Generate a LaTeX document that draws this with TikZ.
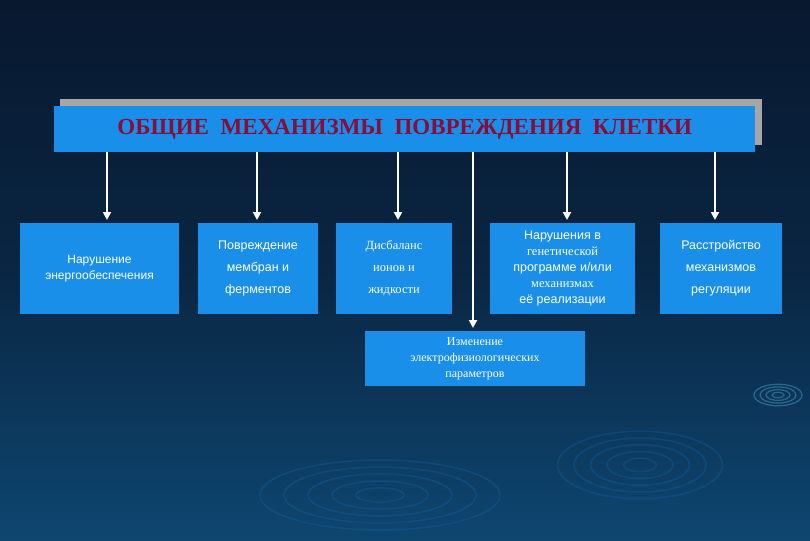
\documentclass[tikz,border=0pt]{standalone}
\usepackage{fontspec}
\setmainfont{Liberation Sans}
\newfontfamily\serifx{Liberation Serif}
\begin{document}
\begin{tikzpicture}[x=1pt,y=-1pt,
 box/.style={draw=none,fill=boxblue,text=white,align=center,inner sep=0pt,font=\fontsize{12.5}{22}\selectfont},
 arr/.style={draw=white,line width=2.8pt,-{Triangle[length=8pt,width=8pt]}}]
\usetikzlibrary{arrows.meta}
\definecolor{boxblue}{HTML}{1A8FEA}
\definecolor{bgtop}{HTML}{08182F}
\definecolor{bgbot}{HTML}{0E4670}
\definecolor{titlered}{HTML}{8A0C38}
\useasboundingbox (0,0) rectangle (810,540);
\shade[top color=bgtop,bottom color=bgbot,middle color=bgtop!70!bgbot] (0,0) rectangle (810,540);
\foreach \r in {20,40,60,80,100}{\draw[cyan!50!blue,opacity=0.25,line width=1.5pt] (380,495) ellipse ({\r*1.2} and {\r*0.35});}
\foreach \r in {15,30,45,60,75}{\draw[cyan!50!blue,opacity=0.25,line width=1.5pt] (640,465) ellipse ({\r*1.1} and {\r*0.45});}
\foreach \r in {6,12,18,24}{\draw[cyan!60,opacity=0.35,line width=1.2pt] (778,395) ellipse ({\r} and {\r*0.45});}
\fill[gray!70] (60,99) rectangle (762,145);
\node[box,minimum width=701pt,minimum height=46pt,anchor=north west] (t) at (54,106) {};
\node[text=titlered,font=\serifx\bfseries\fontsize{23}{26}\selectfont] at (t.center) {ОБЩИЕ\ \ МЕХАНИЗМЫ\ \ ПОВРЕЖДЕНИЯ\ \ КЛЕТКИ};
\node[box,minimum width=159pt,minimum height=91pt,font=\fontsize{12}{16}\selectfont] (b1) at (99.5,268.5) {Нарушение\\энергообеспечения};
\node[box,minimum width=120pt,minimum height=91pt] (b2) at (258,268.5) {Повреждение\\мембран и\\ферментов};
\node[box,minimum width=116pt,minimum height=91pt,font=\serifx\fontsize{12.5}{22}\selectfont] (b3) at (394,268.5) {Дисбаланс\\ионов и\\жидкости};
\node[box,minimum width=145pt,minimum height=91pt,font=\fontsize{12.5}{16}\selectfont] (b4) at (562.5,268.5) {Нарушения в\\{\serifx генетической}\\программе и/или\\{\serifx механизмах}\\её реализации};
\node[box,minimum width=122pt,minimum height=91pt] (b5) at (721,268.5) {Расстройство\\механизмов\\регуляции};
\node[box,minimum width=220pt,minimum height=55pt,font=\serifx\fontsize{12}{16}\selectfont] (b6) at (475,358.5) {Изменение\\электрофизиологических\\параметров};
\coordinate (s1) at (107,152); \coordinate (e1) at (107,220);
\coordinate (s2) at (257,152); \coordinate (e2) at (257,220);
\coordinate (s3) at (398,152); \coordinate (e3) at (398,220);
\coordinate (s4) at (567,152); \coordinate (e4) at (567,220);
\coordinate (s5) at (715,152); \coordinate (e5) at (715,220);
\coordinate (s6) at (473,152); \coordinate (e6) at (473,328);
\foreach \i in {1,...,6}{\draw[arr] (s\i) -- (e\i);}
\end{tikzpicture}
\end{document}
